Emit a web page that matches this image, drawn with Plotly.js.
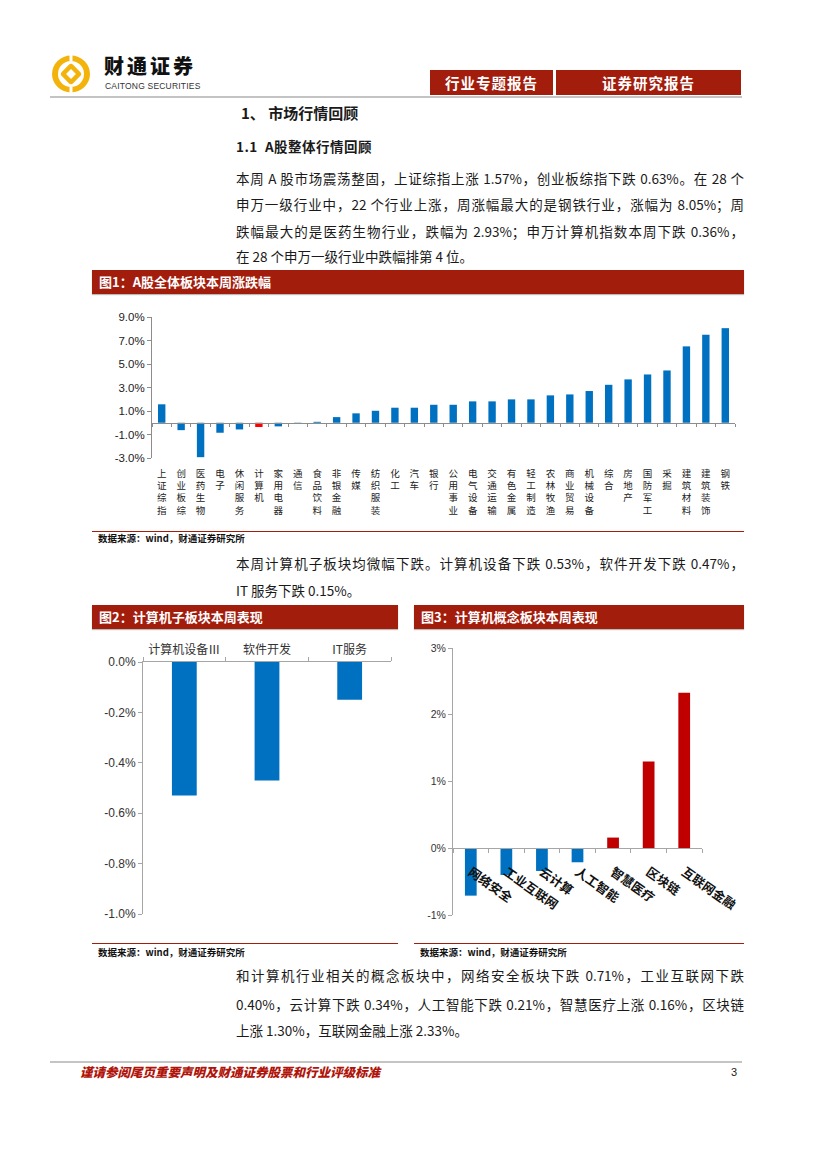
<!DOCTYPE html>
<html><head><meta charset="utf-8">
<script src="https://cdn.plot.ly/plotly-3.0.1.min.js"></script>
<style>
body{margin:0;background:#fff;}
#page{position:relative;width:827px;height:1170px;overflow:hidden;font-family:"Noto Sans CJK SC",sans-serif;color:#1a1a1a;background:#fff;}
.abs{position:absolute;white-space:nowrap;}
.banner{position:absolute;background:#A31D0D;color:#fff;font-weight:700;font-size:13px;height:24px;line-height:24px;padding-left:7px;box-sizing:border-box;white-space:nowrap;box-shadow:0 1px 1px #bbb;}
.hbox{position:absolute;background:#A31D0D;color:#fff;font-weight:700;font-size:14.5px;height:25px;line-height:25px;text-align:center;letter-spacing:1px;}
.src{position:absolute;font-size:9.5px;font-weight:700;color:#111;white-space:nowrap;line-height:12px;}
.rule{position:absolute;height:0;border-top:1px solid #A31D0D;}
.p{position:absolute;left:236px;font-size:13.5px;line-height:20px;white-space:nowrap;color:#1a1a1a;}
.full{width:508px;text-align:justify;text-align-last:justify;}
.chart{position:absolute;}
</style></head>
<body><div id="page">

<!-- header -->
<svg class="abs" style="left:50px;top:54px" width="42" height="40" viewBox="0 0 42 40">
  <ellipse cx="21" cy="20" rx="19" ry="18.5" fill="#F3B30A"/>
  <ellipse cx="21" cy="20" rx="13" ry="13" fill="#fff"/>
  <rect x="13" y="12" width="16" height="16" rx="3" transform="rotate(45 21 20)" fill="#F3B30A"/>
  <rect x="17.5" y="16.5" width="7" height="7" transform="rotate(45 21 20)" fill="#fff"/>
  <rect x="19.5" y="0" width="3" height="7" fill="#fff"/>
  <rect x="19.5" y="33" width="3" height="7" fill="#fff"/>
</svg>
<div class="abs" style="left:104px;top:53px;font-size:20px;font-weight:900;letter-spacing:3px;color:#111;line-height:26px;">财通证券</div>
<div class="abs" style="left:105px;top:81px;font-family:'Liberation Sans';font-size:8.5px;color:#333;line-height:10px;letter-spacing:0.2px;">CAITONG SECURITIES</div>
<div class="hbox" style="left:430px;top:70px;width:123px;">行业专题报告</div>
<div class="hbox" style="left:556px;top:70px;width:185px;">证券研究报告</div>
<div class="abs" style="left:50px;top:96px;width:692px;height:2px;background:#C4C4C4;"></div>

<!-- headings -->
<div class="abs" style="left:241px;top:102px;font-size:15px;font-weight:700;line-height:22px;">1、 市场行情回顾</div>
<div class="abs" style="left:236px;top:136px;font-size:13.5px;font-weight:700;line-height:20px;letter-spacing:0.5px;">1.1&nbsp; A股整体行情回顾</div>

<div class="p full" style="top:168px;">本周 A 股市场震荡整固，上证综指上涨 1.57%，创业板综指下跌 0.63%。在 28 个</div>
<div class="p full" style="top:194px;">申万一级行业中，22 个行业上涨，周涨幅最大的是钢铁行业，涨幅为 8.05%；周</div>
<div class="p full" style="top:221px;">跌幅最大的是医药生物行业，跌幅为 2.93%；申万计算机指数本周下跌 0.36%，</div>
<div class="p" style="top:246px;">在 28 个申万一级行业中跌幅排第 4 位。</div>

<!-- figure 1 -->
<div class="banner" style="left:92px;top:270px;width:652px;">图1：A股全体板块本周涨跌幅</div>
<div id="c1" class="chart" style="left:92px;top:296px;width:652px;height:234px;"></div>
<div class="rule" style="left:92px;top:531px;width:652px;"></div>
<div class="src" style="left:98px;top:532px;">数据来源：wind，财通证券研究所</div>

<div class="p full" style="top:553px;">本周计算机子板块均微幅下跌。计算机设备下跌 0.53%，软件开发下跌 0.47%，</div>
<div class="p" style="top:580px;">IT 服务下跌 0.15%。</div>

<!-- figure 2 & 3 -->
<div class="banner" style="left:92px;top:605px;width:306px;">图2：计算机子板块本周表现</div>
<div class="banner" style="left:414px;top:605px;width:330px;">图3：计算机概念板块本周表现</div>
<div id="c2" class="chart" style="left:92px;top:632px;width:306px;height:292px;"></div>
<div id="c3" class="chart" style="left:414px;top:632px;width:346px;height:292px;"></div>
<div class="rule" style="left:92px;top:943px;width:306px;"></div>
<div class="rule" style="left:414px;top:943px;width:330px;"></div>
<div class="src" style="left:98px;top:946px;">数据来源：wind，财通证券研究所</div>
<div class="src" style="left:420px;top:946px;">数据来源：wind，财通证券研究所</div>

<div class="p full" style="top:965px;">和计算机行业相关的概念板块中，网络安全板块下跌 0.71%，工业互联网下跌</div>
<div class="p full" style="top:994px;">0.40%，云计算下跌 0.34%，人工智能下跌 0.21%，智慧医疗上涨 0.16%，区块链</div>
<div class="p" style="top:1020px;">上涨 1.30%，互联网金融上涨 2.33%。</div>

<!-- footer -->
<div class="abs" style="left:50px;top:1061px;width:692px;height:2px;background:#C4C4C4;"></div>
<div class="abs" style="left:80px;top:1064px;font-size:12.5px;font-weight:900;font-style:italic;color:#B0140A;line-height:16px;">谨请参阅尾页重要声明及财通证券股票和行业评级标准</div>
<div class="abs" style="left:731px;top:1065px;font-family:'Liberation Sans';font-size:11px;color:#222;line-height:15px;">3</div>

</div>
<script>
// ---------- data ----------
const industries = ['上证综指','创业板综','医药生物','电子','休闲服务','计算机','家用电器','通信','食品饮料','非银金融','传媒','纺织服装','化工','汽车','银行','公用事业','电气设备','交通运输','有色金属','轻工制造','农林牧渔','商业贸易','机械设备','综合','房地产','国防军工','采掘','建筑材料','建筑装饰','钢铁'];
const weeklyChange = [1.57,-0.63,-2.93,-0.85,-0.57,-0.36,-0.31,-0.10,0.08,0.48,0.80,1.02,1.28,1.28,1.53,1.53,1.82,1.82,1.99,1.99,2.33,2.41,2.70,3.23,3.69,4.11,4.45,6.50,7.49,8.05];
const highlightIndustry = '计算机';
const fig1TickVals = [-3,-1,1,3,5,7,9];
const fig1TickText = ['-3.0%','-1.0%','1.0%','3.0%','5.0%','7.0%','9.0%'];

const subSectors = ['计算机设备Ⅲ','软件开发','IT服务'];
const subChange = [-0.53,-0.47,-0.15];
const fig2TickVals = [0,-0.2,-0.4,-0.6,-0.8,-1.0];
const fig2TickText = ['0.0%','-0.2%','-0.4%','-0.6%','-0.8%','-1.0%'];

const concepts = ['网络安全','工业互联网','云计算','人工智能','智慧医疗','区块链','互联网金融'];
const conceptChange = [-0.71,-0.40,-0.34,-0.21,0.16,1.30,2.33];
const fig3TickVals = [-1,0,1,2,3];
const fig3TickText = ['-1%','0%','1%','2%','3%'];

// ---------- styles ----------
const BLUE = '#0070C0', RED1 = '#FF0000', RED3 = '#C00000', AX = '#8C8C8C';
const CJK = 'Noto Sans CJK SC', NUM = 'Liberation Sans';
const cfg = {staticPlot:true, displayModeBar:false};
const bg = {paper_bgcolor:'rgba(0,0,0,0)', plot_bgcolor:'rgba(0,0,0,0)', showlegend:false};

// Figure 1
Plotly.newPlot('c1', [
  {type:'bar', x:industries, y:weeklyChange, width:0.38,
   marker:{color:industries.map(c => c === highlightIndustry ? RED1 : BLUE)}, hoverinfo:'skip'},
  {type:'scatter', mode:'markers', x:industries, y:weeklyChange, xaxis:'x2',
   marker:{opacity:0}, hoverinfo:'skip'}
], Object.assign({}, bg, {
  width:652, height:234, margin:{l:60, r:9, t:21, b:72},
  xaxis:{type:'category', range:[-0.5, industries.length-0.5], tickmode:'array',
         tickvals:industries, ticktext:industries.map(c => c.split('').join('<br>')),
         tickangle:0, ticks:'', ticklabelstandoff:8, showline:false, showgrid:false, zeroline:false, automargin:false,
         tickfont:{family:CJK, size:9.5, color:'#222'}},
  xaxis2:{type:'category', overlaying:'x', anchor:'free', position:0.25,
          range:[-0.5, industries.length-0.5], showticklabels:false,
          ticks:'outside', tickson:'boundaries', ticklen:3, tickcolor:AX,
          showline:true, linecolor:AX, linewidth:1, showgrid:false, zeroline:false},
  yaxis:{range:[-3,9], tickmode:'array', tickvals:fig1TickVals, ticktext:fig1TickText,
         ticks:'outside', ticklen:4, tickcolor:AX, showline:true, linecolor:AX,
         showgrid:false, zeroline:false, automargin:false,
         tickfont:{family:NUM, size:11.5, color:'#222'}}
}), cfg);

// Figure 2
Plotly.newPlot('c2', [
  {type:'bar', x:subSectors, y:subChange, width:0.3, marker:{color:BLUE}, hoverinfo:'skip'}
], Object.assign({}, bg, {
  width:306, height:292, margin:{l:51, r:7, t:30, b:10},
  xaxis:{type:'category', side:'top', range:[-0.5, subSectors.length-0.5],
         ticks:'outside', tickson:'boundaries', ticklen:4, tickcolor:'#A6A6A6', ticklabelstandoff:2,
         showline:true, linecolor:'#A6A6A6', showgrid:false, zeroline:false, automargin:false,
         tickfont:{family:CJK, size:12, color:'#333'}},
  yaxis:{range:[-1,0], tickmode:'array', tickvals:fig2TickVals, ticktext:fig2TickText,
         ticks:'outside', ticklen:4, tickcolor:'#A6A6A6', showline:true, linecolor:'#A6A6A6',
         showgrid:false, zeroline:false, automargin:false,
         tickfont:{family:NUM, size:12, color:'#333'}}
}), cfg);

// Figure 3
Plotly.newPlot('c3', [
  {type:'bar', x:concepts, y:conceptChange, width:0.33,
   marker:{color:conceptChange.map(v => v < 0 ? BLUE : RED3)}, hoverinfo:'skip'}
], Object.assign({}, bg, {
  width:346, height:292, margin:{l:39, r:58, t:16, b:9},
  xaxis:{type:'category', anchor:'free', position:0.25, range:[-0.5, concepts.length-0.5],
         tickangle:35, ticks:'outside', tickson:'boundaries', ticklen:4, tickcolor:'#A6A6A6', ticklabelstandoff:11,
         showline:true, linecolor:'#A6A6A6', showgrid:false, zeroline:false, automargin:false,
         tickfont:{family:CJK, size:12.5, weight:700, color:'#111'}},
  yaxis:{range:[-1,3], domain:[0,1], tickmode:'array', tickvals:fig3TickVals, ticktext:fig3TickText,
         ticks:'outside', ticklen:4, tickcolor:'#A6A6A6', showline:true, linecolor:'#A6A6A6',
         showgrid:false, zeroline:false, automargin:false,
         tickfont:{family:NUM, size:10.5, color:'#333'}}
}), cfg);
</script>
</body></html>
